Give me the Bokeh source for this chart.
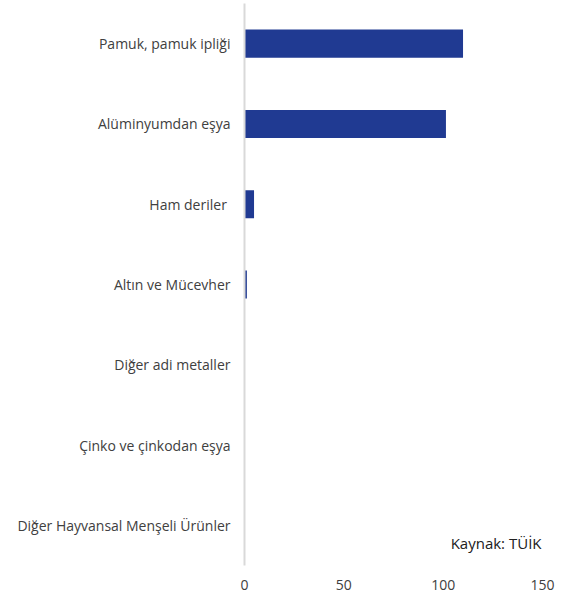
from bokeh.plotting import figure
from bokeh.models import FactorRange, Range1d, Label, FixedTicker
from bokeh.embed import file_html
from bokeh.resources import INLINE

categories = [
    "Pamuk, pamuk ipliği",
    "Alüminyumdan eşya",
    "Ham deriler ",
    "Altın ve Mücevher",
    "Diğer adi metaller",
    "Çinko ve çinkodan eşya",
    "Diğer Hayvansal Menşeli Ürünler",
]
values = [110.0, 101.4, 4.8, 1.2, 0.0, 0.0, 0.0]
x_ticks = [0, 50, 100, 150]
source_note = "Kaynak: TÜİK"

FONT = "Open Sans"
TXT = "#404040"

yr = FactorRange(factors=list(reversed(categories)), range_padding=0)
p = figure(frame_width=298, frame_height=562, y_range=yr, x_range=Range1d(0, 150),
           output_backend="svg", toolbar_location=None,
           min_border_left=244, min_border_right=26, min_border_top=3,
           min_border_bottom=0)

p.hbar(y=categories, right=values, height=0.35, left=0,
       fill_color="#203A92", line_color=None)

p.xgrid.grid_line_color = None
p.ygrid.grid_line_color = None
p.outline_line_color = None
p.background_fill_color = "white"

p.xaxis.ticker = FixedTicker(ticks=x_ticks)
p.xaxis.axis_line_color = None
p.xaxis.major_tick_line_color = None
p.xaxis.minor_tick_line_color = None
p.xaxis.major_tick_out = 0
p.xaxis.major_tick_in = 0
p.xaxis.major_label_standoff = 14
p.xaxis.major_label_text_font = FONT
p.xaxis.major_label_text_font_size = "14px"
p.xaxis.major_label_text_color = TXT

p.yaxis.axis_line_color = "#d9d9d9"
p.yaxis.axis_line_width = 2
p.yaxis.major_tick_line_color = None
p.yaxis.minor_tick_line_color = None
p.yaxis.major_tick_out = 0
p.yaxis.major_tick_in = 0
p.yaxis.major_label_standoff = 14
p.yaxis.major_label_text_font = FONT
p.yaxis.major_label_text_font_size = "14px"
p.yaxis.major_label_text_color = TXT

p.add_layout(Label(x=150, y=0.28, x_offset=-1, text=source_note, text_align="right",
                   text_baseline="middle", text_font=FONT,
                   text_font_size="15px", text_color="#202020"))

open("out.html", "w").write(file_html(p, INLINE))
